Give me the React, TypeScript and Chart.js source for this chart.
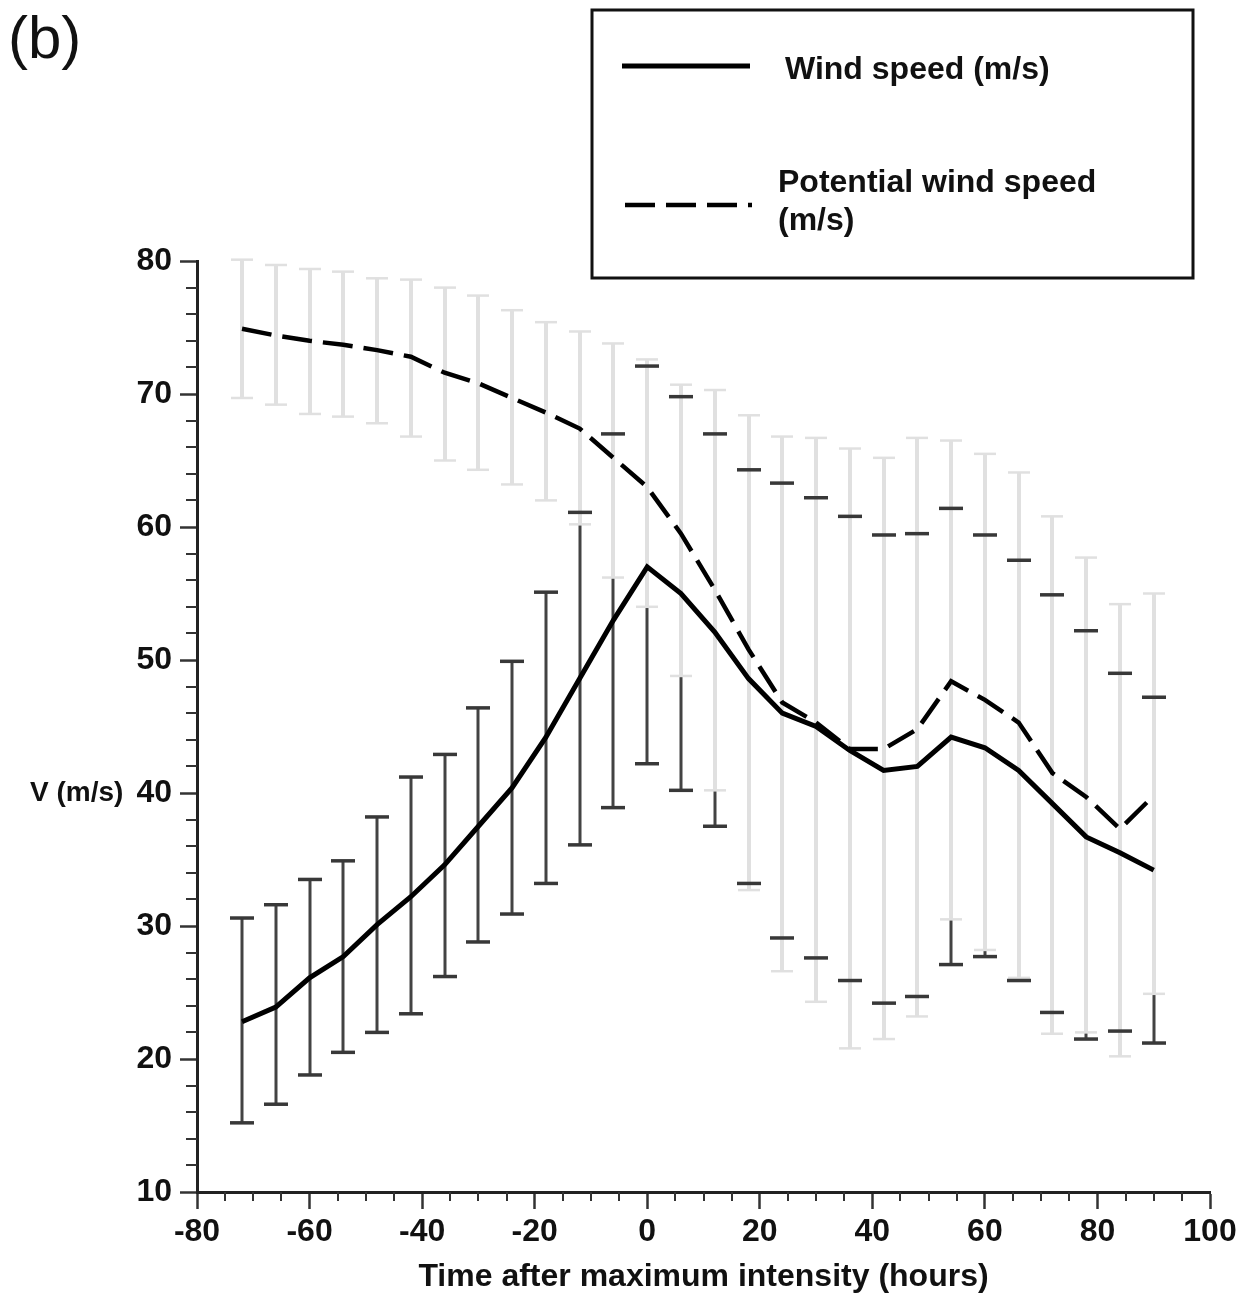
import React, { useEffect, useRef } from 'react';
import { Chart, registerables } from 'chart.js';

Chart.register(...registerables);

// ---- data (hours after maximum intensity) ----
const hours = [-72, -66, -60, -54, -48, -42, -36, -30, -24, -18, -12, -6, 0, 6, 12, 18, 24, 30, 36, 42, 48, 54, 60, 66, 72, 78, 84, 90];

const windSpeed = [22.8, 23.9, 26.1, 27.7, 30.1, 32.2, 34.6, 37.5, 40.4, 44.2, 48.6, 53.0, 57.0, 55.0, 52.1, 48.6, 46.0, 45.0, 43.2, 41.7, 42.0, 44.2, 43.4, 41.7, 39.2, 36.7, 35.5, 34.2];
const windLow = [15.2, 16.6, 18.8, 20.5, 22.0, 23.4, 26.2, 28.8, 30.9, 33.2, 36.1, 38.9, 42.2, 40.2, 37.5, 33.2, 29.1, 27.6, 25.9, 24.2, 24.7, 27.1, 27.7, 25.9, 23.5, 21.5, 22.1, 21.2];
const windHigh = [30.6, 31.6, 33.5, 34.9, 38.2, 41.2, 42.9, 46.4, 49.9, 55.1, 61.1, 67.0, 72.1, 69.8, 67.0, 64.3, 63.3, 62.2, 60.8, 59.4, 59.5, 61.4, 59.4, 57.5, 54.9, 52.2, 49.0, 47.2];

const potentialSpeed = [74.9, 74.4, 74.0, 73.7, 73.3, 72.8, 71.6, 70.8, 69.7, 68.6, 67.4, 65.2, 63.0, 59.5, 55.3, 50.8, 46.8, 45.3, 43.3, 43.3, 44.8, 48.4, 47.0, 45.3, 41.5, 39.7, 37.3, 39.8];
const potentialLow = [69.7, 69.2, 68.5, 68.3, 67.8, 66.8, 65.0, 64.3, 63.2, 62.0, 60.2, 56.2, 54.0, 48.8, 40.2, 32.7, 26.6, 24.3, 20.8, 21.5, 23.2, 30.5, 28.2, 26.1, 21.9, 22.0, 20.2, 24.9];
const potentialHigh = [80.1, 79.7, 79.4, 79.2, 78.7, 78.6, 78.0, 77.4, 76.3, 75.4, 74.7, 73.8, 72.6, 70.7, 70.3, 68.4, 66.8, 66.7, 65.9, 65.2, 66.7, 66.5, 65.5, 64.1, 60.8, 57.7, 54.2, 55.0];

const seriesLabels = ['Wind speed (m/s)', 'Potential wind speed (m/s)'];
const legendLines = [['Wind speed (m/s)'], ['Potential wind speed', '(m/s)']];
const xRange = [-80, 100];
const yRange = [10, 80];
const xMajorStep = 20;
const xMinorStep = 5;
const yMajorStep = 10;
const yMinorStep = 2;
const xTitle = 'Time after maximum intensity (hours)';
const yTitle = 'V (m/s)';
const panelLabel = '(b)';

const FONT = "'Liberation Sans', Arial, Helvetica, sans-serif";

const errorBarPlugin = {
  id: 'errorBars',
  beforeDatasetsDraw(chart: any) {
    const { ctx, scales } = chart;
    const x = scales.x;
    const y = scales.y;
    ctx.save();
    ctx.lineCap = 'butt';
    const vline = (px: number, a: number, b: number) => {
      ctx.beginPath();
      ctx.moveTo(px, y.getPixelForValue(a));
      ctx.lineTo(px, y.getPixelForValue(b));
      ctx.stroke();
    };
    const cap = (px: number, v: number, half: number) => {
      const py = y.getPixelForValue(v);
      ctx.beginPath();
      ctx.moveTo(px - half, py);
      ctx.lineTo(px + half, py);
      ctx.stroke();
    };
    const pxs = hours.map((h) => Math.round(x.getPixelForValue(h)));
    // wind speed vertical bars (dark)
    ctx.strokeStyle = '#434343';
    ctx.lineWidth = 3;
    pxs.forEach((px, i) => vline(px, windLow[i], windHigh[i]));
    // potential vertical bars (light) drawn over
    ctx.strokeStyle = '#e0e0e0';
    ctx.lineWidth = 4;
    pxs.forEach((px, i) => vline(px, potentialLow[i], potentialHigh[i]));
    // potential caps
    ctx.lineWidth = 2.5;
    pxs.forEach((px, i) => {
      cap(px, potentialLow[i], 11);
      cap(px, potentialHigh[i], 11);
    });
    // wind caps
    ctx.strokeStyle = '#383838';
    ctx.lineWidth = 3.5;
    pxs.forEach((px, i) => {
      cap(px, windLow[i], 12);
      cap(px, windHigh[i], 12);
    });
    ctx.restore();
  },
};

const decorPlugin = {
  id: 'decor',
  afterDraw(chart: any) {
    const { ctx, scales, chartArea, data } = chart;
    const x = scales.x;
    const y = scales.y;
    ctx.save();
    // minor ticks
    ctx.strokeStyle = '#333';
    ctx.lineWidth = 2;
    for (let v = xRange[0]; v <= xRange[1]; v += xMinorStep) {
      if (v % xMajorStep === 0) continue;
      const px = Math.round(x.getPixelForValue(v));
      ctx.beginPath();
      ctx.moveTo(px, chartArea.bottom);
      ctx.lineTo(px, chartArea.bottom + 9);
      ctx.stroke();
    }
    for (let v = yRange[0]; v <= yRange[1]; v += yMinorStep) {
      if (v % yMajorStep === 0) continue;
      const py = Math.round(y.getPixelForValue(v));
      ctx.beginPath();
      ctx.moveTo(chartArea.left - 11, py);
      ctx.lineTo(chartArea.left, py);
      ctx.stroke();
    }

    // y-axis title (horizontal)
    ctx.fillStyle = '#111';
    ctx.font = `bold 28px ${FONT}`;
    ctx.textAlign = 'left';
    ctx.textBaseline = 'middle';
    ctx.fillText(yTitle, 30, 793);

    // panel label
    ctx.font = `60px ${FONT}`;
    ctx.textBaseline = 'alphabetic';
    ctx.fillText(panelLabel, 8, 58);

    // legend box
    const bx = 592, by = 10, bw = 601, bh = 268;
    ctx.fillStyle = '#fff';
    ctx.fillRect(bx, by, bw, bh);
    ctx.strokeStyle = '#111';
    ctx.lineWidth = 3;
    ctx.strokeRect(bx, by, bw, bh);

    const ds0 = data.datasets[0];
    const ds1 = data.datasets[1];
    ctx.strokeStyle = ds0.borderColor;
    ctx.lineWidth = ds0.borderWidth;
    ctx.setLineDash([]);
    ctx.beginPath();
    ctx.moveTo(622, 66);
    ctx.lineTo(750, 66);
    ctx.stroke();

    ctx.strokeStyle = ds1.borderColor;
    ctx.lineWidth = ds1.borderWidth;
    ctx.setLineDash(ds1.borderDash);
    ctx.beginPath();
    ctx.moveTo(625, 205);
    ctx.lineTo(752, 205);
    ctx.stroke();
    ctx.setLineDash([]);

    ctx.fillStyle = '#111';
    ctx.font = `bold 32px ${FONT}`;
    ctx.textBaseline = 'middle';
    ctx.fillText(legendLines[0][0], 785, 70);
    ctx.fillText(legendLines[1][0], 778, 183);
    ctx.fillText(legendLines[1][1], 778, 221);
    ctx.restore();
  },
};

export default function App() {
  const ref = useRef<HTMLCanvasElement>(null);

  useEffect(() => {
    document.body.style.margin = '0';
    const canvas = ref.current;
    if (!canvas) return;
    const tickFont = { family: FONT, size: 32, weight: 'bold' as const };
    const chart = new Chart(canvas, {
      type: 'line',
      data: {
        datasets: [
          {
            label: seriesLabels[0],
            data: hours.map((h, i) => ({ x: h, y: windSpeed[i] })),
            borderColor: '#000',
            borderWidth: 5,
            pointRadius: 0,
            tension: 0,
            fill: false,
          },
          {
            label: seriesLabels[1],
            data: hours.map((h, i) => ({ x: h, y: potentialSpeed[i] })),
            borderColor: '#000',
            borderWidth: 4.5,
            borderDash: [30, 11],
            borderCapStyle: 'butt',
            pointRadius: 0,
            tension: 0,
            fill: false,
          },
        ],
      },
      options: {
        animation: false,
        responsive: false,
        devicePixelRatio: 1,
        layout: { padding: { top: 261, right: 37, bottom: 0, left: 0 } },
        plugins: {
          legend: { display: false },
          tooltip: { enabled: false },
        },
        scales: {
          x: {
            type: 'linear',
            min: xRange[0],
            max: xRange[1],
            afterFit: (s: any) => {
              s.height = 106;
            },
            ticks: {
              stepSize: xMajorStep,
              font: tickFont,
              color: '#111',
              padding: 4,
              maxRotation: 0,
              autoSkip: false,
              callback: (v: any) => String(v),
            },
            grid: {
              display: true,
              drawOnChartArea: false,
              drawTicks: true,
              tickLength: 17,
              tickWidth: 2.5,
              tickColor: '#333',
            },
            border: { display: true, color: '#222', width: 3 },
            title: {
              display: true,
              text: xTitle,
              font: tickFont,
              color: '#111',
              padding: { top: 0, bottom: 2 },
            },
          },
          y: {
            type: 'linear',
            min: yRange[0],
            max: yRange[1],
            afterFit: (s: any) => {
              s.width = 197;
            },
            ticks: {
              stepSize: yMajorStep,
              font: tickFont,
              color: '#111',
              padding: 8,
              callback: (v: any) => String(v),
            },
            grid: {
              display: true,
              drawOnChartArea: false,
              drawTicks: true,
              tickLength: 17,
              tickWidth: 2.5,
              tickColor: '#333',
            },
            border: { display: true, color: '#222', width: 3 },
          },
        },
      },
      plugins: [errorBarPlugin, decorPlugin],
    } as any);
    return () => chart.destroy();
  }, []);

  return (
    <div style={{ width: 1247, height: 1298, background: '#fff', overflow: 'hidden' }}>
      <canvas ref={ref} width={1247} height={1298} style={{ display: 'block', width: 1247, height: 1298 }} />
    </div>
  );
}
